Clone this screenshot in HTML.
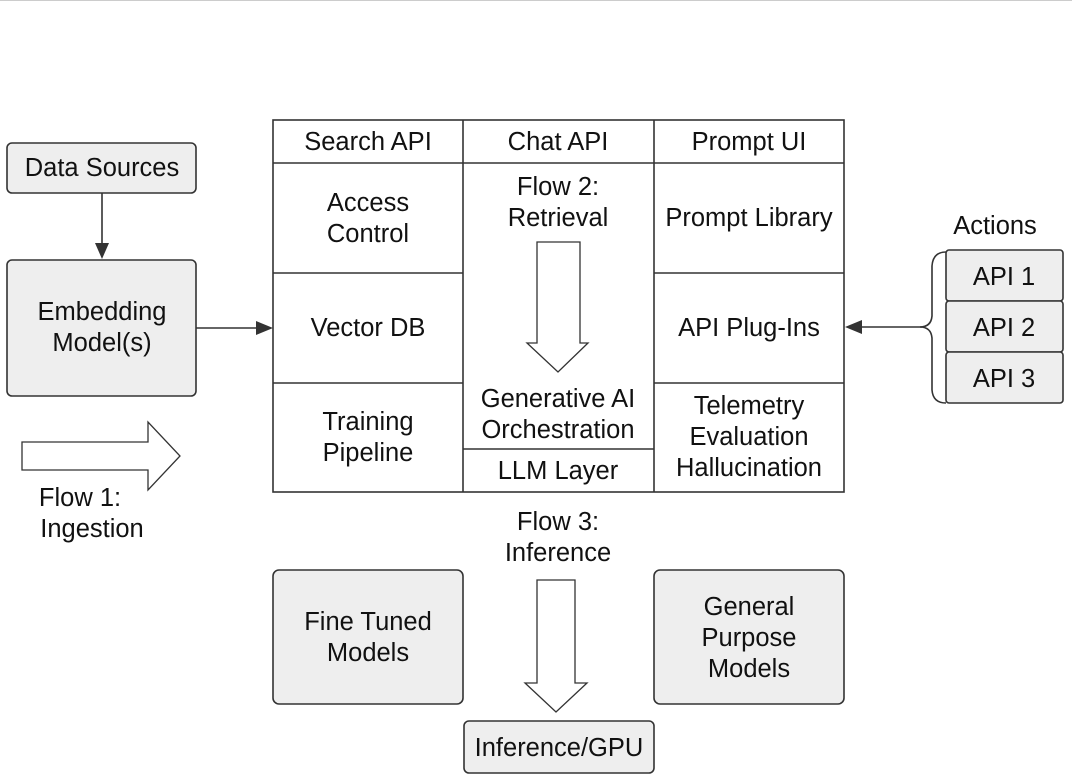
<!DOCTYPE html>
<html><head><style>
html,body{margin:0;padding:0;background:#fff;}
svg{display:block;font-family:"Liberation Sans",Arial,sans-serif;}
text{font-size:25.5px;fill:#111;text-anchor:middle;}
</style></head><body>
<svg width="1072" height="777" viewBox="0 0 1072 777">
<line x1="0" y1="0.5" x2="1072" y2="0.5" stroke="#ccc" stroke-width="1"/>
<g stroke="#333" stroke-width="1.6" fill="#eeeeee">
<rect x="7" y="143" width="189" height="50" rx="5"/>
<rect x="7" y="260" width="189" height="136" rx="5"/>
<rect x="273" y="570" width="190" height="134" rx="6"/>
<rect x="654" y="570" width="190" height="134" rx="6"/>
<rect x="464" y="721" width="190" height="52" rx="5"/>
<rect x="946" y="250" width="117" height="51" rx="3"/>
<rect x="946" y="301" width="117" height="51" rx="3"/>
<rect x="946" y="352" width="117" height="51" rx="3"/>
</g>
<g stroke="#333" stroke-width="1.6" fill="none">
<rect x="273" y="120" width="571" height="372"/>
<line x1="463" y1="120" x2="463" y2="492"/>
<line x1="654" y1="120" x2="654" y2="492"/>
<line x1="273" y1="163" x2="844" y2="163"/>
<line x1="273" y1="273" x2="463" y2="273"/>
<line x1="654" y1="273" x2="844" y2="273"/>
<line x1="273" y1="383" x2="463" y2="383"/>
<line x1="654" y1="383" x2="844" y2="383"/>
<line x1="463" y1="449" x2="654" y2="449"/>
<line x1="102" y1="193" x2="102" y2="245"/>
<line x1="196" y1="328" x2="258" y2="328"/>
<line x1="922" y1="327" x2="860" y2="327"/>
<path d="M946 252 Q933 252 932 266 L932 316 Q931 327 920 327 Q931 327 932 338 L932 390 Q933 403 946 403"/>
<path d="M22 442 H148 V422 L180 456 L148 490 V470 H22 Z" stroke-width="1.3"/>
<path d="M537 242 H580 V343 H588 L558 372 L527 343 H537 Z" stroke-width="1.3"/>
<path d="M537 580 H575 V683 H587 L556 712 L525 683 H537 Z" stroke-width="1.3"/>
</g>
<g fill="#333">
<path d="M95 243 L109 243 L102 259 Z"/>
<path d="M256 321 L256 335 L273 328 Z"/>
<path d="M862 320 L862 334 L845 327 Z"/>
</g>
<text x="102" y="176">Data Sources</text>
<text x="102" y="320">Embedding</text>
<text x="102" y="351">Model(s)</text>
<text x="80" y="506">Flow 1:</text>
<text x="92" y="537">Ingestion</text>
<text x="368" y="150">Search API</text>
<text x="558" y="150">Chat API</text>
<text x="749" y="150">Prompt UI</text>
<text x="368" y="211">Access</text>
<text x="368" y="242">Control</text>
<text x="558" y="195">Flow 2:</text>
<text x="558" y="226">Retrieval</text>
<text x="749" y="226">Prompt Library</text>
<text x="368" y="336">Vector DB</text>
<text x="749" y="336">API Plug-Ins</text>
<text x="368" y="430">Training</text>
<text x="368" y="461">Pipeline</text>
<text x="558" y="407">Generative AI</text>
<text x="558" y="438">Orchestration</text>
<text x="558" y="479">LLM Layer</text>
<text x="749" y="414">Telemetry</text>
<text x="749" y="445">Evaluation</text>
<text x="749" y="476">Hallucination</text>
<text x="558" y="530">Flow 3:</text>
<text x="558" y="561">Inference</text>
<text x="368" y="630">Fine Tuned</text>
<text x="368" y="661">Models</text>
<text x="749" y="615">General</text>
<text x="749" y="646">Purpose</text>
<text x="749" y="677">Models</text>
<text x="559" y="756">Inference/GPU</text>
<text x="995" y="234">Actions</text>
<text x="1004" y="285">API 1</text>
<text x="1004" y="336">API 2</text>
<text x="1004" y="387">API 3</text>
</svg>
</body></html>
